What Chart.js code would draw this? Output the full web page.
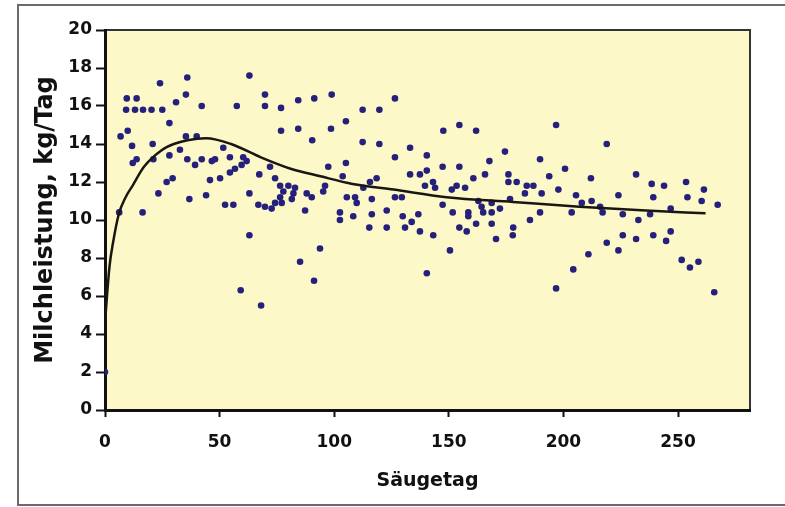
<!DOCTYPE html>
<html>
<head>
<meta charset="utf-8">
<script src="https://cdn.jsdelivr.net/npm/chart.js@4.4.0/dist/chart.umd.min.js"></script>
<style>
  html, body { margin: 0; padding: 0; background: #fff; }
  #wrap { width: 785px; height: 507px; }
</style>
</head>
<body>
<div id="wrap"><canvas id="milk" width="785" height="507"></canvas></div>
<script>
// Säugetag / Milchleistung (einzelne Messungen)
const days = [
  0, 24.0, 35.9, 35.3, 9.5, 13.8, 31.0, 42.2, 9.2, 13.1, 16.6, 20.3, 25.0, 28.1, 9.9, 6.8, 11.8, 20.8, 35.3, 40.0,
  32.7, 28.1, 13.8, 12.1, 21.1, 35.9, 39.3, 42.2, 46.6, 29.5, 26.9, 45.8, 23.3, 36.8, 44.1, 6.2, 16.4,
  63.0, 69.8, 57.5, 69.8, 76.8, 84.3, 91.3, 76.8, 84.3, 90.4, 51.6, 54.5, 48.0, 54.5, 56.7, 50.2, 60.3, 61.8, 59.6,
  72.0, 67.3, 74.2, 63.0, 76.4, 80.0, 82.9, 77.8, 82.2, 81.5, 76.4, 77.1, 88.0, 90.2, 95.2, 52.4, 56.0, 66.9, 69.8,
  72.7, 74.2, 87.3, 63.0, 93.8, 85.1, 91.2, 59.2, 68.1,
  98.9, 126.5, 112.4, 119.7, 105.1, 98.6, 112.4, 119.7, 133.1, 126.5, 140.4, 105.1, 97.4, 140.4, 137.4, 133.1, 143.1,
  103.7, 96.0, 118.5, 115.6, 112.7, 139.6, 105.5, 109.1, 109.8, 116.4, 126.5, 129.5, 102.5, 102.5, 108.3, 116.4,
  122.9, 129.9, 133.8, 136.7, 115.3, 122.9, 130.9, 137.4, 143.2, 140.4,
  154.6, 147.6, 161.9, 174.5, 189.8, 167.7, 147.3, 154.6, 165.8, 160.7, 176.0, 176.0, 179.6, 144.0, 153.4, 157.1,
  151.3, 184.0, 186.9, 183.2, 190.5, 147.3, 162.9, 164.3, 168.7, 165.0, 168.7, 172.3, 158.5, 158.5, 151.7, 176.7,
  189.8, 185.4, 168.7, 161.9, 154.6, 157.8, 178.1, 177.9, 170.6, 150.5,
  196.8, 218.9, 200.7, 193.8, 212.0, 231.7, 238.5, 197.8, 205.5, 224.0, 239.2, 208.0, 212.3, 216.0, 203.6, 217.1,
  225.9, 232.7, 237.8, 225.9, 231.7, 239.2, 218.9, 224.0, 210.9, 204.3, 196.8,
  243.9, 253.5, 261.3, 254.1, 260.3, 267.3, 246.8, 246.8, 244.8, 251.6, 255.2, 258.9, 265.8
];
const milk = [
  2.0, 17.2, 17.5, 16.6, 16.4, 16.4, 16.2, 16.0, 15.8, 15.8, 15.8, 15.8, 15.8, 15.1, 14.7, 14.4, 13.9, 14.0, 14.4, 14.4,
  13.7, 13.4, 13.2, 13.0, 13.2, 13.2, 12.9, 13.2, 13.1, 12.2, 12.0, 12.1, 11.4, 11.1, 11.3, 10.4, 10.4,
  17.6, 16.6, 16.0, 16.0, 15.9, 16.3, 16.4, 14.7, 14.8, 14.2, 13.8, 13.3, 13.2, 12.5, 12.7, 12.2, 13.3, 13.1, 12.9,
  12.8, 12.4, 12.2, 11.4, 11.8, 11.8, 11.7, 11.5, 11.4, 11.1, 11.2, 10.9, 11.4, 11.2, 11.5, 10.8, 10.8, 10.8, 10.7,
  10.6, 10.9, 10.5, 9.2, 8.5, 7.8, 6.8, 6.3, 5.5,
  16.6, 16.4, 15.8, 15.8, 15.2, 14.8, 14.1, 14.0, 13.8, 13.3, 13.4, 13.0, 12.8, 12.6, 12.4, 12.4, 12.0,
  12.3, 11.8, 12.2, 12.0, 11.7, 11.8, 11.2, 11.2, 10.9, 11.1, 11.2, 11.2, 10.4, 10.0, 10.2, 10.3,
  10.5, 10.2, 9.9, 10.3, 9.6, 9.6, 9.6, 9.4, 9.2, 7.2,
  15.0, 14.7, 14.7, 13.6, 13.2, 13.1, 12.8, 12.8, 12.4, 12.2, 12.4, 12.0, 12.0, 11.7, 11.8, 11.7,
  11.6, 11.8, 11.8, 11.4, 11.4, 10.8, 11.0, 10.7, 10.9, 10.4, 10.4, 10.6, 10.4, 10.2, 10.4, 11.1,
  10.4, 10.0, 9.8, 9.8, 9.6, 9.4, 9.6, 9.2, 9.0, 8.4,
  15.0, 14.0, 12.7, 12.3, 12.2, 12.4, 11.9, 11.6, 11.3, 11.3, 11.2, 10.9, 11.0, 10.7, 10.4, 10.4,
  10.3, 10.0, 10.3, 9.2, 9.0, 9.2, 8.8, 8.4, 8.2, 7.4, 6.4,
  11.8, 12.0, 11.6, 11.2, 11.0, 10.8, 10.6, 9.4, 8.9, 7.9, 7.5, 7.8, 6.2
];

// Laktationskurve
const curveDays = [0, 1, 2, 3.5, 6, 9, 12, 17, 25, 30, 36, 44, 55, 68, 81, 94, 108, 126, 149, 178, 207, 236, 262];
const curveMilk = [4.6, 6.2, 7.6, 8.8, 10.3, 11.2, 11.8, 12.8, 13.7, 14.0, 14.2, 14.3, 14.0, 13.3, 12.7, 12.3, 11.9, 11.6, 11.2, 10.95, 10.7, 10.5, 10.35];

const xTicks = [0, 50, 100, 150, 200, 250];
const yTicks = [0, 2, 4, 6, 8, 10, 12, 14, 16, 18, 20];

const plotBg = '#fdf8c8';
const fontFam = '"DejaVu Sans", Arial, sans-serif';

const frame = {
  id: 'frame',
  beforeDraw(chart) {
    const { ctx, chartArea: a } = chart;
    ctx.save();
    ctx.fillStyle = '#fff';
    ctx.fillRect(0, 0, chart.width, chart.height);
    ctx.strokeStyle = '#6a6a6a';
    ctx.lineWidth = 2;
    ctx.strokeRect(18, 5, 800, 500);
    ctx.fillStyle = plotBg;
    ctx.fillRect(a.left, a.top, a.width, a.height);
    ctx.strokeStyle = '#333';
    ctx.lineWidth = 2;
    ctx.strokeRect(a.left, a.top, a.width, a.height);
    ctx.restore();
  }
};

new Chart(document.getElementById('milk'), {
  type: 'scatter',
  data: {
    datasets: [{
      label: 'Kurve',
      data: curveDays.map((d, i) => ({ x: d, y: curveMilk[i] })),
      showLine: true,
      borderColor: '#1a1712',
      borderWidth: 2.5,
      pointRadius: 0,
      cubicInterpolationMode: 'monotone'
    }, {
      label: 'Messwerte',
      data: days.map((d, i) => ({ x: d, y: milk[i] })),
      backgroundColor: '#24207c',
      borderColor: '#24207c',
      pointRadius: 3.3,
      borderWidth: 0
    }]
  },
  options: {
    responsive: false,
    animation: false,
    layout: { padding: { left: 0, top: 30, right: 35, bottom: 0 } },
    plugins: {
      legend: { display: false },
      tooltip: { enabled: false }
    },
    scales: {
      x: {
        type: 'linear',
        min: 0,
        max: 281.4,
        afterFit: (s) => { s.height = 97; },
        afterBuildTicks: (s) => { s.ticks = xTicks.map(v => ({ value: v })); },
        ticks: {
          color: '#111',
          padding: 15,
          font: { family: fontFam, size: 17, weight: 'bold' }
        },
        grid: { drawOnChartArea: false, color: '#111', tickLength: 7, tickWidth: 2 },
        border: { display: true, color: '#111', width: 3 },
        title: {
          display: true,
          text: 'Säugetag',
          color: '#111',
          padding: { top: 0, bottom: 15 },
          font: { family: fontFam, size: 19, weight: 'bold' }
        }
      },
      y: {
        min: 0,
        max: 20,
        afterFit: (s) => { s.width = 105; },
        afterBuildTicks: (s) => { s.ticks = yTicks.map(v => ({ value: v })); },
        ticks: {
          color: '#111',
          padding: 4,
          font: { family: fontFam, size: 17, weight: 'bold' }
        },
        grid: { drawOnChartArea: false, color: '#111', tickLength: 9, tickWidth: 2 },
        border: { display: true, color: '#111', width: 3 },
        title: {
          display: true,
          text: 'Milchleistung, kg/Tag',
          color: '#111',
          padding: { top: 31, bottom: 0 },
          font: { family: fontFam, size: 24, weight: 'bold' }
        }
      }
    }
  },
  plugins: [frame]
});
</script>
</body>
</html>
